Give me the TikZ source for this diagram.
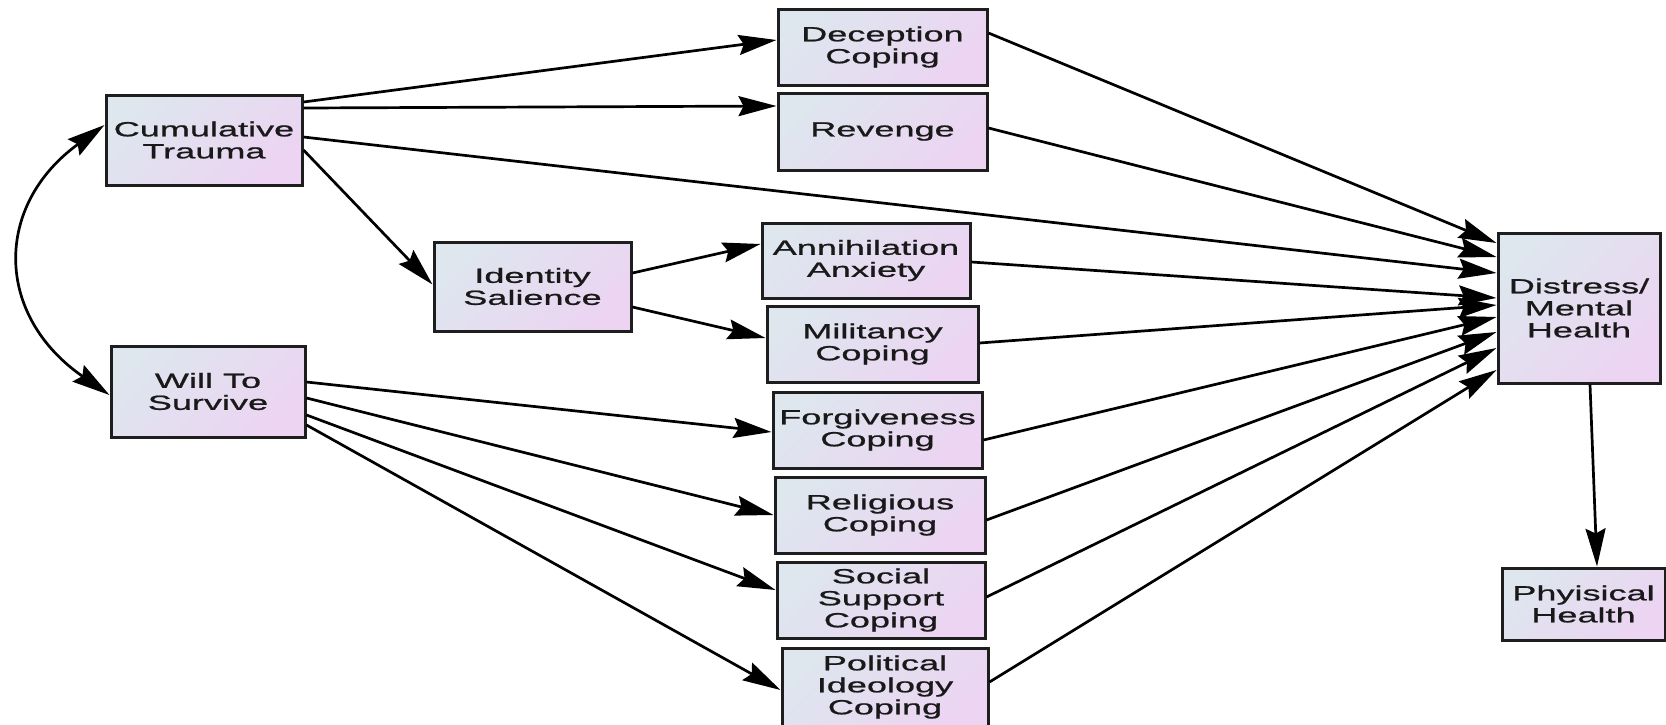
\documentclass[tikz,border=0pt]{standalone}
\usepackage{fontspec}
\usetikzlibrary{arrows.meta}
\newfontfamily\boxfont[FakeStretch=1.76,FakeBold=0.9]{Liberation Sans}
\definecolor{boxtl}{RGB}{222,230,238}
\definecolor{boxbr}{RGB}{236,212,242}
\definecolor{edge}{RGB}{30,30,30}
\begin{document}
\begin{tikzpicture}[x=1pt,y=-1pt,
  var/.style={draw=edge, line width=3pt, top color=boxtl, bottom color=boxbr,
    shading angle=45, inner sep=0pt, align=center,
    font=\boxfont\fontsize{20.5}{22}\selectfont, text=black!90},
  link/.style={draw=black, line width=2.7pt,
    -{Stealth[length=38pt,width=20pt,inset=5pt]}},
  dlink/.style={draw=black, line width=2.7pt,
    {Stealth[length=38pt,width=20pt,inset=5pt]}-{Stealth[length=38pt,width=20pt,inset=5pt]}}]

\useasboundingbox (0,0) rectangle (1666,724);
\fill[white] (0,0) rectangle (1666,724);

% exogenous variables
\node[var, minimum width=196pt, minimum height=90pt] (CT) at (204,140) {Cumulative\\Trauma};
\node[var, minimum width=194pt, minimum height=91pt] (WS) at (208,391.5) {Will To\\Survive};
\node[var, minimum width=197pt, minimum height=89pt] (IS) at (532.5,286.5) {Identity\\Salience};

% coping and mediating variables
\node[var, minimum width=209pt, minimum height=76pt] (DC) at (882.5,47) {Deception\\Coping};
\node[var, minimum width=209pt, minimum height=77pt] (RV) at (882.5,131.5) {Revenge};
\node[var, minimum width=208pt, minimum height=75pt] (AA) at (866,260.5) {Annihilation\\Anxiety};
\node[var, minimum width=211pt, minimum height=76pt] (MC) at (872.5,344) {Militancy\\Coping};
\node[var, minimum width=209pt, minimum height=76pt] (FC) at (877.5,430) {Forgiveness\\Coping};
\node[var, minimum width=210pt, minimum height=76pt] (RC) at (880,515) {Religious\\Coping};
\node[var, minimum width=208pt, minimum height=76pt] (SS) at (881,600) {Social\\Support\\Coping};
\node[var, minimum width=206pt, minimum height=78pt] (PI) at (885,687) {Political\\Ideology\\Coping};

% outcomes
\node[var, minimum width=162pt, minimum height=150pt] (DM) at (1579,308) {Distress/\\Mental\\Health};
\node[var, minimum width=163pt, minimum height=72pt] (PH) at (1583.5,604) {Phyisical\\Health};

% correlation between the exogenous variables
\draw[dlink] ([yshift=15pt]CT.west) .. controls (-6,205) and (-6,315) .. ([yshift=-3.5pt]WS.west);

% paths from Cumulative Trauma
\draw[link] ([yshift=38pt]CT.east) -- ([yshift=7pt]DC.west);
\draw[link] ([yshift=32pt]CT.east) -- ([yshift=25.5pt]RV.west);
\draw[link] ([yshift=3pt]CT.east) -- ([yshift=35pt]DM.west);
\draw[link] ([yshift=-10pt]CT.east) -- ([yshift=2pt]IS.west);

% paths from Identity Salience
\draw[link] ([yshift=13.5pt]IS.east) -- ([yshift=16.5pt]AA.west);
\draw[link] ([yshift=-20.5pt]IS.east) -- ([yshift=6pt]MC.west);

% paths from Will To Survive
\draw[link] ([yshift=9.5pt]WS.east) -- ([yshift=-2pt]FC.west);
\draw[link] ([yshift=-6.5pt]WS.east) -- ([yshift=0pt]RC.west);
\draw[link] ([yshift=-23.5pt]WS.east) -- ([yshift=10pt]SS.west);
\draw[link] ([yshift=-33.5pt]WS.east) -- ([yshift=-3pt]PI.west);

% paths into Distress/Mental Health
\draw[link] ([yshift=14pt]DC.east) -- ([yshift=65pt]DM.west);
\draw[link] ([yshift=3.5pt]RV.east) -- ([yshift=51pt]DM.west);
\draw[link] ([yshift=-1.5pt]AA.east) -- ([yshift=10pt]DM.west);
\draw[link] ([yshift=1pt]MC.east) -- ([yshift=3pt]DM.west);
\draw[link] ([yshift=-10pt]FC.east) -- ([yshift=-9pt]DM.west);
\draw[link] ([yshift=-5pt]RC.east) -- ([yshift=-24pt]DM.west);
\draw[link] ([yshift=3pt]SS.east) -- ([yshift=-40pt]DM.west);
\draw[link] ([yshift=5pt]PI.east) -- ([yshift=-62pt]DM.west);

% Distress to Physical Health
\draw[link] ([xshift=11pt]DM.south) -- ([xshift=13.5pt]PH.north);

\end{tikzpicture}
\end{document}
